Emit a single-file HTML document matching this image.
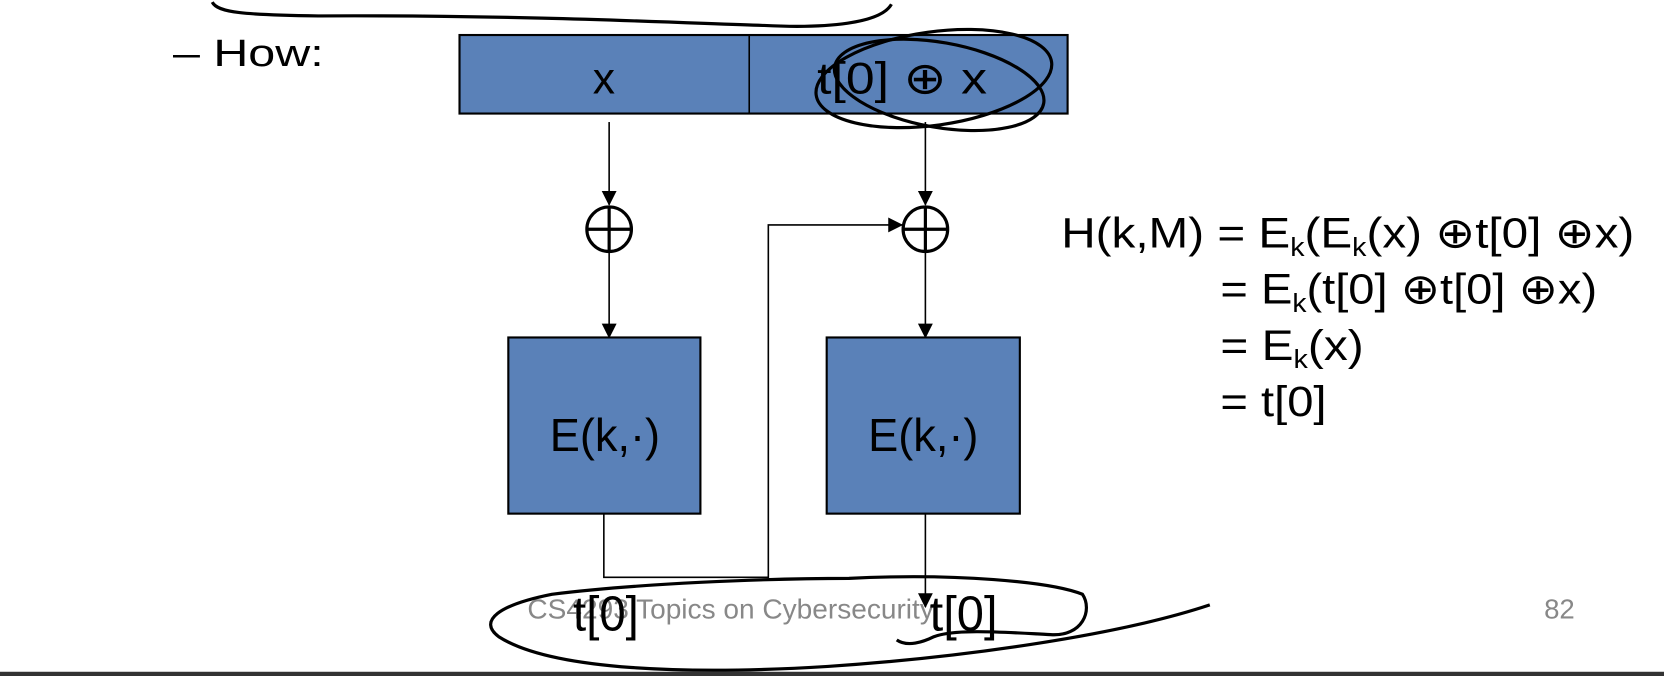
<!DOCTYPE html>
<html><head><meta charset="utf-8"><style>
html,body{margin:0;padding:0;background:#fff;}
svg{display:block;}
text{font-family:"Liberation Sans",Arial,sans-serif;}
</style></head><body>
<svg width="1664" height="676" viewBox="0 0 1568 637" preserveAspectRatio="none" xmlns="http://www.w3.org/2000/svg">
<defs><marker id="a" markerWidth="14" markerHeight="14" refX="13" refY="7" orient="auto" markerUnits="userSpaceOnUse"><path d="M0,0 L14,7 L0,14 z" fill="#000"/></marker></defs>
<path d="M200,2 C205,12 230,14 300,15 C500,14 650,22 720,24 C780,27 830,22 840,4" fill="none" stroke="#000" stroke-width="3"/>
<text x="163" y="62" font-size="36" textLength="142" lengthAdjust="spacingAndGlyphs">– How:</text>
<rect x="433" y="33" width="573" height="74" fill="#5a81b8" stroke="#000" stroke-width="2"/>
<line x1="706" y1="33" x2="706" y2="107" stroke="#000" stroke-width="1.5"/>
<text x="569" y="88" font-size="42" text-anchor="middle">x</text>
<text x="770" y="88" font-size="42" textLength="160" lengthAdjust="spacingAndGlyphs">t[0] ⊕ x</text>
<ellipse cx="880" cy="74" rx="112" ry="44" fill="none" stroke="#000" stroke-width="3" transform="rotate(-8 880 74)"/>
<ellipse cx="885" cy="80" rx="100" ry="40" fill="none" stroke="#000" stroke-width="3" transform="rotate(10 885 80)"/>
<line x1="574" y1="115" x2="574" y2="193" stroke="#000" stroke-width="1.5" marker-end="url(#a)"/>
<line x1="872" y1="115" x2="872" y2="193" stroke="#000" stroke-width="1.5" marker-end="url(#a)"/>
<g stroke="#000" stroke-width="3" fill="none">
<circle cx="574" cy="216" r="21"/><line x1="553" y1="216" x2="595" y2="216"/><line x1="574" y1="195" x2="574" y2="237"/>
<circle cx="872" cy="216" r="21"/><line x1="851" y1="216" x2="893" y2="216"/><line x1="872" y1="195" x2="872" y2="237"/>
</g>
<line x1="574" y1="237" x2="574" y2="318" stroke="#000" stroke-width="1.5" marker-end="url(#a)"/>
<line x1="872" y1="237" x2="872" y2="318" stroke="#000" stroke-width="1.5" marker-end="url(#a)"/>
<rect x="479" y="318" width="181" height="166" fill="#5a81b8" stroke="#000" stroke-width="2"/>
<rect x="779" y="318" width="182" height="166" fill="#5a81b8" stroke="#000" stroke-width="2"/>
<text x="518" y="425" font-size="44" textLength="104" lengthAdjust="spacingAndGlyphs">E(k,·)</text>
<text x="818" y="425" font-size="44" textLength="104" lengthAdjust="spacingAndGlyphs">E(k,·)</text>
<polyline points="569,484 569,544 724,544 724,212 850,212" fill="none" stroke="#000" stroke-width="1.5" marker-end="url(#a)"/>
<line x1="872" y1="484" x2="872" y2="572" stroke="#000" stroke-width="1.5" marker-end="url(#a)"/>
<text x="497" y="583" font-size="26" fill="#888" textLength="383" lengthAdjust="spacingAndGlyphs">CS4293 Topics on Cybersecurity</text>
<text x="1455" y="583" font-size="26" fill="#888">82</text>
<text x="540" y="594" font-size="46" textLength="62" lengthAdjust="spacingAndGlyphs">t[0]</text>
<text x="876" y="594" font-size="46" textLength="64" lengthAdjust="spacingAndGlyphs">t[0]</text>
<path d="M1140,570 C1050,600 900,620 780,628 C650,636 520,632 470,600 C450,585 470,570 520,560 C600,550 720,545 800,545 C900,540 990,548 1020,560 C1030,575 1020,600 990,598 C950,596 900,592 880,600 C870,605 855,610 845,603" fill="none" stroke="#000" stroke-width="3"/>
<g font-size="40">
<text x="1000" y="233" textLength="540" lengthAdjust="spacingAndGlyphs">H(k,M) = E<tspan font-size="24" dy="8">k</tspan><tspan dy="-8">(E</tspan><tspan font-size="24" dy="8">k</tspan><tspan dy="-8">(x) ⊕t[0] ⊕x)</tspan></text>
<text x="1150" y="286" textLength="355" lengthAdjust="spacingAndGlyphs">= E<tspan font-size="24" dy="8">k</tspan><tspan dy="-8">(t[0] ⊕t[0] ⊕x)</tspan></text>
<text x="1150" y="339" textLength="135" lengthAdjust="spacingAndGlyphs">= E<tspan font-size="24" dy="8">k</tspan><tspan dy="-8">(x)</tspan></text>
<text x="1150" y="392" textLength="100" lengthAdjust="spacingAndGlyphs">= t[0]</text>
</g>
<rect x="0" y="633" width="1568" height="4" fill="#333"/>
</svg>
</body></html>
